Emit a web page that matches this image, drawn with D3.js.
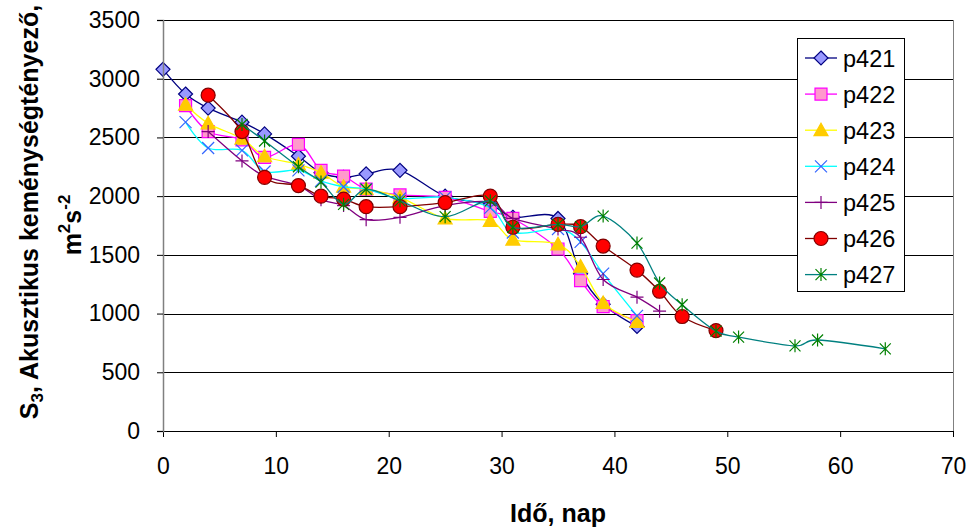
<!DOCTYPE html>
<html>
<head>
<meta charset="utf-8">
<script src="https://cdn.jsdelivr.net/npm/d3@7"></script>
<style>
  body { margin: 0; background: #fff; }
  svg { display: block; font-family: "Liberation Sans", Arial, sans-serif; }
</style>
</head>
<body>
<script>
// measured days and S3 values per sample
var days421 = [0, 2, 4, 7, 9, 12, 14, 16, 18, 21, 25, 29, 31, 35, 37, 39, 42];
var vals421 = [3080, 2870, 2750, 2630, 2530, 2340, 2200, 2160, 2190, 2220, 2000, 1930, 1820, 1810, 1340, 1080, 890];

var days422 = [2, 4, 7, 9, 12, 14, 16, 18, 21, 25, 29, 31, 35, 37, 39, 42];
var vals422 = [2770, 2550, 2480, 2330, 2440, 2220, 2170, 2060, 2010, 1990, 1870, 1810, 1550, 1280, 1060, 940];

var days423 = [2, 4, 7, 9, 12, 14, 16, 18, 21, 25, 29, 31, 35, 37, 39, 42];
var vals423 = [2780, 2620, 2490, 2340, 2270, 2200, 2080, 2060, 1990, 1810, 1790, 1630, 1590, 1400, 1090, 930];

var days424 = [2, 4, 7, 9, 12, 14, 16, 18, 21, 25, 29, 31, 35, 37, 39, 42];
var vals424 = [2630, 2410, 2390, 2210, 2220, 2130, 2080, 2060, 1980, 1990, 1900, 1690, 1720, 1610, 1340, 980];

var days425 = [4, 7, 9, 12, 14, 16, 18, 21, 25, 29, 31, 35, 37, 39, 42, 44];
var vals425 = [2550, 2300, 2170, 2090, 1970, 1920, 1800, 1820, 1920, 1950, 1810, 1720, 1650, 1290, 1140, 1020];

var days426 = [4, 7, 9, 12, 14, 16, 18, 21, 25, 29, 31, 35, 37, 39, 42, 44, 46, 49];
var vals426 = [2860, 2550, 2160, 2090, 2000, 1975, 1910, 1910, 1945, 2000, 1735, 1760, 1740, 1575, 1370, 1190, 975, 855];

var days427 = [7, 9, 12, 14, 16, 18, 21, 25, 29, 31, 35, 37, 39, 42, 44, 46, 49, 51, 56, 58, 64];
var vals427 = [2610, 2470, 2250, 2120, 1930, 2060, 1960, 1825, 1960, 1735, 1760, 1740, 1830, 1600, 1260, 1075, 850, 800, 725, 775, 700];

var seriesNames = ["p421", "p422", "p423", "p424", "p425", "p426", "p427"];
var xTicks = [0, 10, 20, 30, 40, 50, 60, 70];
var yTicks = [0, 500, 1000, 1500, 2000, 2500, 3000, 3500];

var width = 971, height = 527;
var plotLeft = 163, plotRight = 953, plotTop = 20, plotBottom = 431;

var styles = [
  {line: "#000080", marker: "diamond", fill: "#9999FF", stroke: "#000080"},
  {line: "#FF00FF", marker: "square", fill: "#FF99CC", stroke: "#FF00FF"},
  {line: "#FFFF00", marker: "triangle", fill: "#FFCC00", stroke: "#FFCC00"},
  {line: "#00FFFF", marker: "x", fill: "none", stroke: "#3366FF"},
  {line: "#800080", marker: "plus", fill: "none", stroke: "#800080"},
  {line: "#800000", marker: "circle", fill: "#FF0000", stroke: "#800000"},
  {line: "#008080", marker: "star", fill: "none", stroke: "#008000"}
];

var allDays = [days421, days422, days423, days424, days425, days426, days427];
var allVals = [vals421, vals422, vals423, vals424, vals425, vals426, vals427];
var series = seriesNames.map(function(n, i) {
  return {name: n, style: styles[i], points: allDays[i].map(function(d, j) { return [d, allVals[i][j]]; })};
});

var x = d3.scaleLinear().domain([0, 70]).range([plotLeft, plotRight]);
var y = d3.scaleLinear().domain([0, 3500]).range([plotBottom, plotTop]);

var svg = d3.select("body").append("svg")
    .attr("width", width)
    .attr("height", height);

// horizontal gridlines
svg.append("g").selectAll("line")
    .data(yTicks.filter(function(d) { return d > 0; }))
    .enter().append("line")
    .attr("x1", plotLeft).attr("x2", plotRight)
    .attr("y1", function(d) { return Math.round(y(d)) + 0.5; })
    .attr("y2", function(d) { return Math.round(y(d)) + 0.5; })
    .attr("stroke", "#000")
    .attr("stroke-width", 1);

// right border of plot area
svg.append("line")
    .attr("x1", plotRight + 0.5).attr("x2", plotRight + 0.5)
    .attr("y1", plotTop).attr("y2", plotBottom)
    .attr("stroke", "#808080");

function markerPath(type) {
  switch (type) {
    case "diamond": return "M0,-7L7,0L0,7L-7,0Z";
    case "square": return "M-6,-6H6V6H-6Z";
    case "triangle": return "M0,-7L7,5.5L-7,5.5Z";
    case "circle": return d3.symbol(d3.symbolCircle, Math.PI * 7 * 7)();
    case "x": return "M-6,-6L6,6M6,-6L-6,6";
    case "plus": return "M-6.5,0H6.5M0,-6.5V6.5";
    case "star": return "M-5.5,-5.5L5.5,5.5M5.5,-5.5L-5.5,5.5M0,-6.5V6.5";
  }
}

function drawMarker(g, st, cx, cy) {
  g.append("path")
      .attr("transform", "translate(" + cx + "," + cy + ")")
      .attr("d", markerPath(st.marker))
      .attr("fill", st.fill)
      .attr("stroke", st.stroke)
      .attr("stroke-width", 1.2);
}

var line = d3.line()
    .x(function(d) { return x(d[0]); })
    .y(function(d) { return y(d[1]); })
    .curve(d3.curveCardinal.tension(0));

var plot = svg.append("g");
series.forEach(function(s) {
  var g = plot.append("g");
  g.append("path")
      .attr("d", line(s.points))
      .attr("fill", "none")
      .attr("stroke", s.style.line)
      .attr("stroke-width", 1.3);
  s.points.forEach(function(p) {
    drawMarker(g, s.style, x(p[0]), y(p[1]));
  });
});

// axes
var xAxis = d3.axisBottom(x).tickValues(xTicks).tickSize(6).tickPadding(21);
var yAxis = d3.axisLeft(y).tickValues(yTicks).tickFormat(d3.format("d")).tickSize(6).tickPadding(17);

var gx = svg.append("g")
    .attr("transform", "translate(0," + plotBottom + ")")
    .call(xAxis);
var gy = svg.append("g")
    .attr("transform", "translate(" + plotLeft + ",0)")
    .call(yAxis);

[gx, gy].forEach(function(g) {
  g.select(".domain").attr("stroke", "#000");
  g.selectAll(".tick line").attr("stroke", "#000");
  g.selectAll("text")
      .attr("font-size", 23)
      .attr("font-family", "Liberation Sans, Arial, sans-serif")
      .attr("fill", "#000");
});
gy.select(".domain").attr("stroke", "#808080").attr("stroke-width", 1.5);

// axis titles
svg.append("text")
    .attr("x", (plotLeft + plotRight) / 2)
    .attr("y", 522)
    .attr("text-anchor", "middle")
    .attr("font-size", 25)
    .attr("font-weight", "bold")
    .text("Idő, nap");

var t1 = svg.append("text")
    .attr("transform", "translate(38,212) rotate(-90)")
    .attr("text-anchor", "middle")
    .attr("font-size", 25)
    .attr("font-weight", "bold");
t1.append("tspan").text("S");
t1.append("tspan").attr("font-size", 17).attr("dy", 5).text("3");
t1.append("tspan").attr("dy", -5).text(", Akusztikus keménységtényező,");

var t2 = svg.append("text")
    .attr("transform", "translate(81,225) rotate(-90)")
    .attr("text-anchor", "middle")
    .attr("font-size", 25)
    .attr("font-weight", "bold");
t2.append("tspan").text("m");
t2.append("tspan").attr("font-size", 17).attr("dy", -11).text("2");
t2.append("tspan").attr("dy", 11).text("s");
t2.append("tspan").attr("font-size", 17).attr("dy", -11).text("-2");

// legend
var legend = svg.append("g");
legend.append("rect")
    .attr("x", 797.5).attr("y", 38.5)
    .attr("width", 107).attr("height", 253)
    .attr("fill", "#fff")
    .attr("stroke", "#000");

series.forEach(function(s, i) {
  var ly = 58 + i * 36.1;
  var g = legend.append("g");
  g.append("line")
      .attr("x1", 805).attr("x2", 837)
      .attr("y1", ly).attr("y2", ly)
      .attr("stroke", s.style.line)
      .attr("stroke-width", 1.3);
  drawMarker(g, s.style, 821, ly);
  g.append("text")
      .attr("x", 843)
      .attr("y", ly + 8.5)
      .attr("font-size", 23.5)
      .text(s.name);
});
</script>
</body>
</html>
